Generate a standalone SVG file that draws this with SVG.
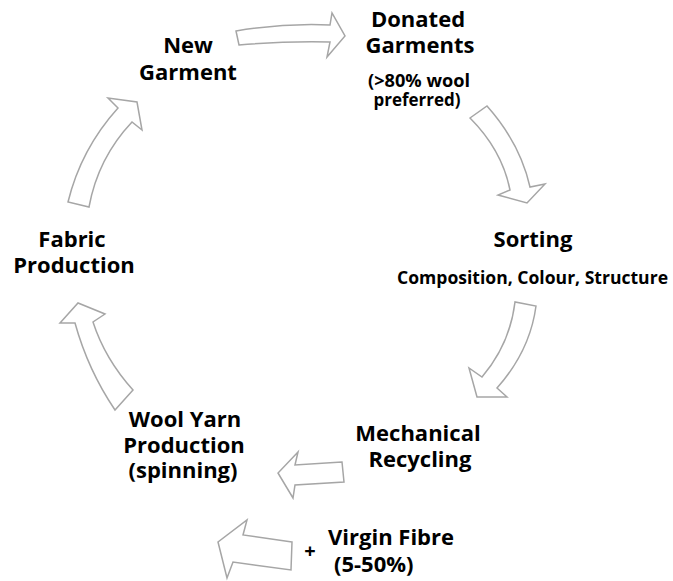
<svg xmlns="http://www.w3.org/2000/svg" width="673" height="581" viewBox="0 0 673 581">
<style>
.t{font-family:"Open Sans","Liberation Sans",sans-serif;font-weight:bold;font-size:22px;fill:#000;text-anchor:middle}
.s{font-size:17.5px}
.l{text-anchor:start}
.a{fill:#fff;stroke:#a6a6a6;stroke-width:1.5;stroke-linejoin:miter}
</style>
<rect width="673" height="581" fill="#fff"/>
<g id="connectors">
<path class="a" d="M236,31 Q283,23 330,25 L332,13 L345,36 L327,57 L330,42 Q284,41 239,45 Z"/>
<path class="a" d="M470,118 Q502,150 510,190 L498,195 L527,203 L545,184 L530,187 Q520,143 487,106 Z"/>
<path class="a" d="M515,302 Q510,344 482,377 L469,368 L477,397 L507,397 L497,388 Q530,351 536,306 Z"/>
<path class="a" d="M342,462 L295,465 L298,452 L278,473 L293,498 L295,485 L344,482 Z"/>
<path class="a" d="M292,542 L243,535 L247,520 L218,542 L227,578 L233,562 L291,570 Z"/>
<path class="a" d="M68,202 Q81,149 118,108 L108,98 L137,102 L142,130 L132,122 Q98,158 89,207 Z"/>
<path class="a" d="M115,410 Q88,370 75,323 L60,323 L78,303 L105,314 L93,322 Q105,359 133,390 Z"/>
</g>
<g id="new-garment">
<text class="t" x="188" y="53">New</text>
<text class="t" x="188" y="80">Garment</text>
</g>
<g id="donated-garments">
<text class="t" x="418" y="27">Donated</text>
<text class="t" x="420" y="53">Garments</text>
<text class="t s" x="419" y="87" textLength="102" lengthAdjust="spacingAndGlyphs">(&gt;80% wool</text>
<text class="t s" x="417" y="106" textLength="87" lengthAdjust="spacingAndGlyphs">preferred)</text>
</g>
<g id="sorting">
<text class="t" x="533" y="247">Sorting</text>
<text class="t s" x="532.5" y="284" textLength="271" lengthAdjust="spacingAndGlyphs">Composition, Colour, Structure</text>
</g>
<g id="mechanical-recycling">
<text class="t" x="418" y="441">Mechanical</text>
<text class="t" x="420" y="467">Recycling</text>
</g>
<g id="virgin-fibre">
<text class="t" x="310" y="558" style="font-size:20px">+</text>
<text class="t l" x="328" y="545">Virgin Fibre</text>
<text class="t l" x="334" y="572">(5-50%)</text>
</g>
<g id="wool-yarn-production">
<text class="t" x="185" y="427">Wool Yarn</text>
<text class="t" x="184" y="453">Production</text>
<text class="t" x="183" y="478">(spinning)</text>
</g>
<g id="fabric-production">
<text class="t" x="72" y="247">Fabric</text>
<text class="t" x="74" y="273">Production</text>
</g>
</svg>
